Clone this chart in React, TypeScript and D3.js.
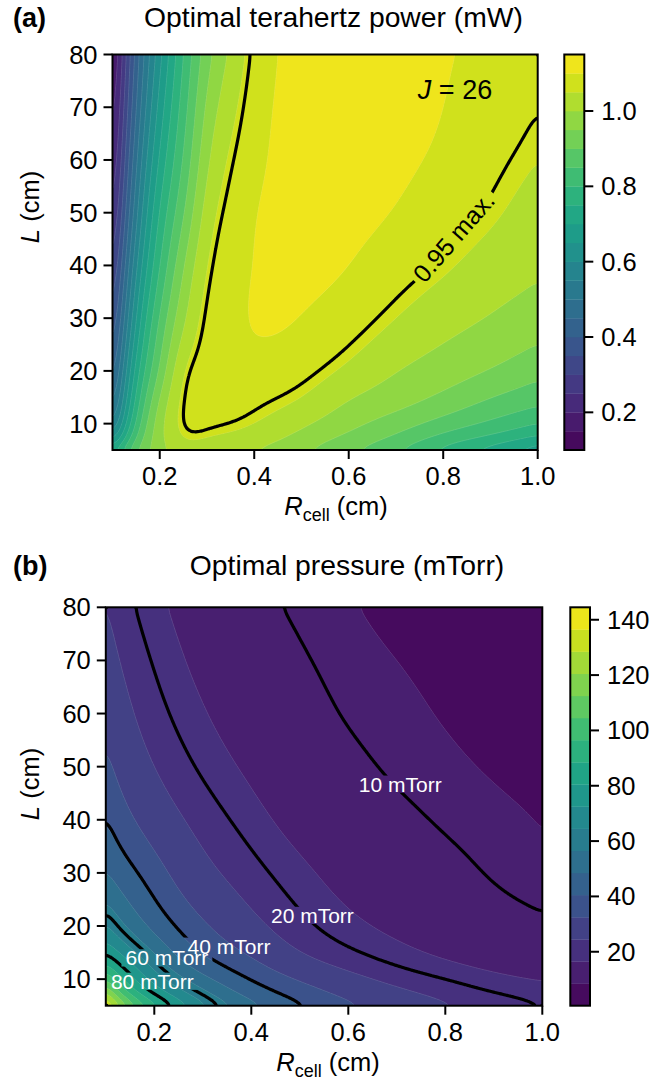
import React, { useMemo } from "react";
import * as d3 from "d3";

// ---------------- shared axes ----------------
const R_DOMAIN = [0.1, 1.0];
const L_DOMAIN = [5, 80];
const R_TICKS = [0.2, 0.4, 0.6, 0.8, 1.0];
const L_TICKS = [10, 20, 30, 40, 50, 60, 70, 80];
const L_NODES = [5, 10, 15, 20, 30, 40, 50, 60, 70, 80];

// ---------------- panel (a): optimal terahertz power (mW), J = 26 ----------------
const R_NODES_A = [0.1, 0.15, 0.2, 0.25, 0.3, 0.35, 0.4, 0.5, 0.6, 0.7, 0.8, 0.9, 1.0];
const POWER_L5 = [0.74, 0.9, 0.98, 1.025, 1.02, 1.01, 0.995, 0.955, 0.905, 0.85, 0.78, 0.72, 0.66];
const POWER_L10 = [0.53, 0.81, 0.98, 1.064, 1.07, 1.062, 1.05, 1.01, 0.965, 0.925, 0.88, 0.84, 0.8];
const POWER_L15 = [0.45, 0.76, 0.95, 1.062, 1.082, 1.082, 1.073, 1.05, 1.005, 0.973, 0.94, 0.902, 0.87];
const POWER_L20 = [0.4, 0.72, 0.91, 1.047, 1.08, 1.09, 1.088, 1.073, 1.04, 1.002, 0.975, 0.947, 0.915];
const POWER_L30 = [0.33, 0.65, 0.855, 0.99, 1.07, 1.092, 1.102, 1.099, 1.08, 1.05, 1.02, 0.997, 0.975];
const POWER_L40 = [0.27, 0.59, 0.8, 0.945, 1.05, 1.087, 1.101, 1.108, 1.1, 1.08, 1.057, 1.03, 1.008];
const POWER_L50 = [0.22, 0.535, 0.755, 0.895, 1.022, 1.075, 1.098, 1.112, 1.11, 1.098, 1.08, 1.057, 1.03];
const POWER_L60 = [0.18, 0.49, 0.71, 0.855, 0.99, 1.058, 1.09, 1.113, 1.118, 1.108, 1.093, 1.072, 1.05];
const POWER_L70 = [0.15, 0.45, 0.67, 0.825, 0.96, 1.035, 1.082, 1.109, 1.118, 1.115, 1.1, 1.084, 1.064];
const POWER_L80 = [0.12, 0.42, 0.635, 0.8, 0.93, 1.01, 1.072, 1.107, 1.115, 1.117, 1.103, 1.093, 1.079];
const POWER_LEVELS = [0.1, 0.15, 0.2, 0.25, 0.3, 0.35, 0.4, 0.45, 0.5, 0.55, 0.6, 0.65, 0.7, 0.75, 0.8, 0.85, 0.9, 0.95, 1.0, 1.05, 1.1, 1.15];
const POWER_CB_TICKS = [0.2, 0.4, 0.6, 0.8, 1.0];
const POWER_MAX_FRACTION = 0.95;

// ---------------- panel (b): optimal pressure (mTorr) ----------------
const R_NODES_B = [0.1, 0.2, 0.3, 0.4, 0.5, 0.6, 0.7, 0.8, 0.9, 1.0];
const PRESSURE_L5 = [144, 93, 67.5, 51.8, 41.6, 34.4, 29.3, 25.5, 22.6, 20.2];
const PRESSURE_L10 = [106, 69.3, 51.1, 39.6, 31.8, 26.6, 22.8, 20.0, 17.7, 16.2];
const PRESSURE_L15 = [80, 56.2, 39.8, 31.2, 24.7, 20.8, 17.9, 15.6, 13.9, 12.5];
const PRESSURE_L20 = [66, 46.2, 33.7, 26.4, 21.3, 17.8, 15.3, 13.4, 11.9, 10.7];
const PRESSURE_L30 = [49.5, 35.8, 26.5, 21.6, 17.6, 14.6, 12.5, 11.0, 9.75, 8.8];
const PRESSURE_L40 = [40.8, 28.8, 22.5, 18.2, 14.7, 12.5, 10.8, 9.7, 9.0, 8.4];
const PRESSURE_L50 = [34.6, 24.5, 19.3, 15.5, 12.6, 10.8, 9.6, 8.9, 8.3, 7.8];
const PRESSURE_L60 = [30.5, 21.7, 16.9, 13.5, 11.2, 9.8, 9.0, 8.35, 7.8, 7.4];
const PRESSURE_L70 = [27.4, 19.6, 15.1, 12.1, 10.3, 9.25, 8.5, 7.9, 7.4, 6.95];
const PRESSURE_L80 = [25, 17.8, 13.7, 11.0, 9.6, 8.7, 7.9, 7.4, 6.9, 6.5];
const PRESSURE_LEVELS = [0.5, 8.5, 16.5, 24.5, 32.5, 40.5, 48.5, 56.5, 64.5, 72.5, 80.5, 88.5, 96.5, 104.5, 112.5, 120.5, 128.5, 136.5, 144.5];
const PRESSURE_CB_TICKS = [20, 40, 60, 80, 100, 120, 140];
const PRESSURE_LINES = [10, 20, 40, 60, 80];
const PRESSURE_LABEL_R = [0.707, 0.526, 0.354, 0.226, 0.196];
const PRESSURE_LABEL_L = [46.7, 22.0, 16.2, 14.0, 9.6];

// ---------------- layout ----------------
const W = 670;
const H = 1087;
const FONT = "'Liberation Sans', Arial, Helvetica, sans-serif";
const TICK_FS = 25.5;
const TITLE_FS = 28.3;

const LAYOUT_A = {
  x0: 112.5, x1: 537.7, y0: 54.5, y1: 450, cb0: 564.3, cb1: 584.3,
  titleY: 27, titleX: 333.5, xlabX: 336, ylabY: 207,
};
const LAYOUT_B = {
  x0: 105.8, x1: 542.3, y0: 607.3, y1: 1005.7, cb0: 570.3, cb1: 590,
  titleY: 575, titleX: 347, xlabX: 328, ylabY: 784,
};

// natural cubic spline interpolator
function spline(xs: number[], ys: number[]) {
  const n = xs.length;
  const h: number[] = [];
  for (let i = 0; i < n - 1; i++) h.push(xs[i + 1] - xs[i]);
  const a = new Array(n).fill(0);
  const b = new Array(n).fill(1);
  const c = new Array(n).fill(0);
  const r = new Array(n).fill(0);
  for (let i = 1; i < n - 1; i++) {
    a[i] = h[i - 1];
    b[i] = 2 * (h[i - 1] + h[i]);
    c[i] = h[i];
    r[i] = 6 * ((ys[i + 1] - ys[i]) / h[i] - (ys[i] - ys[i - 1]) / h[i - 1]);
  }
  const cp = new Array(n).fill(0);
  const rp = new Array(n).fill(0);
  cp[0] = c[0] / b[0];
  rp[0] = r[0] / b[0];
  for (let i = 1; i < n; i++) {
    const den = b[i] - a[i] * cp[i - 1];
    cp[i] = c[i] / den;
    rp[i] = (r[i] - a[i] * rp[i - 1]) / den;
  }
  const M = new Array(n).fill(0);
  M[n - 1] = rp[n - 1];
  for (let i = n - 2; i >= 0; i--) M[i] = rp[i] - cp[i] * M[i + 1];
  return (x: number) => {
    let i = 0;
    if (x >= xs[n - 1]) i = n - 2;
    else if (x > xs[0]) {
      while (x > xs[i + 1]) i++;
    }
    const hi = h[i];
    const A = (xs[i + 1] - x) / hi;
    const B = (x - xs[i]) / hi;
    return A * ys[i] + B * ys[i + 1] + ((A * A * A - A) * M[i] + (B * B * B - B) * M[i + 1]) * (hi * hi) / 6;
  };
}

function blur(values: number[], nx: number, ny: number, r: number) {
  const tmp = new Array(nx * ny);
  const src = values.slice();
  for (let pass = 0; pass < 3; pass++) {
    for (let j = 0; j < ny; j++) {
      for (let i = 0; i < nx; i++) {
        let s = 0;
        for (let k = -r; k <= r; k++) {
          const ii = Math.min(nx - 1, Math.max(0, i + k));
          s += src[j * nx + ii];
        }
        tmp[j * nx + i] = s / (2 * r + 1);
      }
    }
    for (let j = 0; j < ny; j++) {
      for (let i = 0; i < nx; i++) {
        let s = 0;
        for (let k = -r; k <= r; k++) {
          const jj = Math.min(ny - 1, Math.max(0, j + k));
          s += tmp[jj * nx + i];
        }
        src[j * nx + i] = s / (2 * r + 1);
      }
    }
  }
  return src;
}

function buildField(rows: number[][], rNodes: number[], nx: number, ny: number, logR: boolean, logV: boolean) {
  const tR = (r: number) => (logR ? Math.log(r) : r);
  const tV = (v: number) => (logV ? Math.log(v) : v);
  const lx = L_NODES.map((l) => Math.log(l));
  const rx = rNodes.map(tR);
  const cols = rNodes.map((_, c) => spline(lx, rows.map((row) => tV(row[c]))));
  const values = new Array(nx * ny);
  for (let j = 0; j < ny; j++) {
    const L = L_DOMAIN[1] - ((j + 0.5) / ny) * (L_DOMAIN[1] - L_DOMAIN[0]);
    const cv = cols.map((f) => f(Math.log(L)));
    const rowF = spline(rx, cv);
    for (let i = 0; i < nx; i++) {
      const R = R_DOMAIN[0] + ((i + 0.5) / nx) * (R_DOMAIN[1] - R_DOMAIN[0]);
      values[j * nx + i] = rowF(tR(R));
    }
  }
  const sm = blur(values, nx, ny, 3);
  return logV ? sm.map((v) => Math.exp(v)) : sm;
}

function isoLines(geom: any, nx: number, ny: number) {
  const e = 1e-6;
  const onB = (a: number[], b: number[]) =>
    (a[0] <= e && b[0] <= e) ||
    (a[0] >= nx - e && b[0] >= nx - e) ||
    (a[1] <= e && b[1] <= e) ||
    (a[1] >= ny - e && b[1] >= ny - e);
  const lines: number[][][] = [];
  for (const poly of geom.coordinates) {
    for (const ring of poly) {
      const segs: number[][][] = [];
      let cur: number[][] = [];
      for (let k = 0; k < ring.length - 1; k++) {
        const a = ring[k];
        const b = ring[k + 1];
        if (onB(a, b)) {
          if (cur.length > 1) segs.push(cur);
          cur = [];
        } else {
          if (cur.length === 0) cur.push(a);
          cur.push(b);
        }
      }
      if (cur.length > 1) segs.push(cur);
      if (segs.length > 1) {
        const f = segs[0];
        const l = segs[segs.length - 1];
        const p = l[l.length - 1];
        if (Math.abs(p[0] - f[0][0]) < e && Math.abs(p[1] - f[0][1]) < e) {
          segs[0] = l.concat(f.slice(1));
          segs.pop();
        }
      }
      lines.push(...segs);
    }
  }
  return lines;
}

let _ctx: CanvasRenderingContext2D | null = null;
function textWidth(t: string, size: number) {
  if (!_ctx) _ctx = document.createElement("canvas").getContext("2d");
  if (!_ctx) return t.length * size * 0.55;
  _ctx.font = `${size}px ${FONT}`;
  return _ctx.measureText(t).width;
}

type Label = { text: string; x: number; y: number; angle: number; size: number; color: string };

function Panel(props: {
  id: string;
  lay: typeof LAYOUT_A;
  rows: number[][];
  rNodes: number[];
  logR: boolean;
  logV: boolean;
  levels: number[];
  cbTicks: number[];
  cbFormat: (v: number) => string;
  lineLevels: (vals: number[]) => number[];
  labels: (x: any, y: any) => Label[];
  title: string;
  letter: string;
  extra?: React.ReactNode;
}) {
  const { lay, levels } = props;
  const pw = lay.x1 - lay.x0;
  const ph = lay.y1 - lay.y0;
  const nx = Math.round(pw / 1.5);
  const ny = Math.round(ph / 1.5);

  const x = d3.scaleLinear().domain(R_DOMAIN).range([lay.x0, lay.x1]);
  const y = d3.scaleLinear().domain(L_DOMAIN).range([lay.y1, lay.y0]);
  const cbY = d3.scaleLinear().domain([levels[0], levels[levels.length - 1]]).range([lay.y1, lay.y0]);
  const colorOf = (i: number) =>
    d3.interpolateViridis(((levels[i] + levels[i + 1]) / 2 - levels[0]) / (levels[levels.length - 1] - levels[0]));

  const computed = useMemo(() => {
    const values = buildField(props.rows, props.rNodes, nx, ny, props.logR, props.logV);
    const proj = d3.geoTransform({
      point: function (gx: number, gy: number) {
        (this as any).stream.point(lay.x0 + (gx / nx) * pw, lay.y0 + (gy / ny) * ph);
      },
    });
    const path = d3.geoPath(proj);
    const bands = d3.contours().size([nx, ny]).smooth(true).thresholds(levels.slice(0, -1))(values as any);
    const fills = bands.map((b, i) => ({ d: path(b as any) || "", color: colorOf(i) }));
    const lineLv = props.lineLevels(values as number[]);
    const line = d3
      .line<number[]>()
      .x((p) => lay.x0 + (p[0] / nx) * pw)
      .y((p) => lay.y0 + (p[1] / ny) * ph)
      .curve(d3.curveBasis);
    const seams: string[] = [];
    for (let i = 1; i < levels.length - 1; i++) {
      const g = d3.contours().size([nx, ny]).thresholds([levels[i]])(values as any)[0];
      for (const l of isoLines(g, nx, ny)) seams.push(line(l) || "");
    }
    const blacks: string[] = [];
    for (const lv of lineLv) {
      const g = d3.contours().size([nx, ny]).thresholds([lv])(values as any)[0];
      for (const l of isoLines(g, nx, ny)) blacks.push(line(l) || "");
    }
    return { fills, seams, blacks };
  }, []);

  const labels = props.labels(x, y);
  const clipId = `clip-${props.id}`;
  const maskId = `mask-${props.id}`;

  return (
    <g>
      <defs>
        <clipPath id={clipId}>
          <rect x={lay.x0} y={lay.y0} width={pw} height={ph} />
        </clipPath>
        <mask id={maskId} maskUnits="userSpaceOnUse" x={0} y={0} width={W} height={H}>
          <rect x={0} y={0} width={W} height={H} fill="white" />
          {labels.map((lb, i) => {
            const w = textWidth(lb.text, lb.size) + 8;
            const h = lb.size * 0.82;
            return (
              <rect
                key={i}
                x={-w / 2}
                y={-h / 2}
                width={w}
                height={h}
                fill="black"
                transform={`translate(${lb.x},${lb.y}) rotate(${lb.angle})`}
              />
            );
          })}
        </mask>
      </defs>
      <g clipPath={`url(#${clipId})`}>
        {computed.fills.map((f, i) => (
          <path key={i} d={f.d} fill={f.color} stroke={f.color} strokeWidth={0.3} />
        ))}
        {computed.seams.map((d, i) => (
          <path key={i} d={d} fill="none" stroke="white" strokeOpacity={0.22} strokeWidth={0.6} />
        ))}
        <g mask={`url(#${maskId})`}>
          {computed.blacks.map((d, i) => (
            <path key={i} d={d} fill="none" stroke="black" strokeWidth={3.2} strokeLinejoin="round" />
          ))}
        </g>
        {labels.map((lb, i) => (
          <text
            key={i}
            x={0}
            y={0}
            transform={`translate(${lb.x},${lb.y}) rotate(${lb.angle})`}
            textAnchor="middle"
            dominantBaseline="central"
            fontSize={lb.size}
            fill={lb.color}
            fontFamily={FONT}
          >
            {lb.text}
          </text>
        ))}
        {props.extra}
      </g>
      <rect x={lay.x0} y={lay.y0} width={pw} height={ph} fill="none" stroke="black" strokeWidth={2} />
      {R_TICKS.map((t) => (
        <g key={t}>
          <line x1={x(t)} x2={x(t)} y1={lay.y1} y2={lay.y1 + 9} stroke="black" strokeWidth={2} />
          <text x={x(t)} y={lay.y1 + 35} textAnchor="middle" fontSize={TICK_FS} fontFamily={FONT}>
            {t.toFixed(1)}
          </text>
        </g>
      ))}
      {L_TICKS.map((t) => (
        <g key={t}>
          <line x1={lay.x0 - 9} x2={lay.x0} y1={y(t)} y2={y(t)} stroke="black" strokeWidth={2} />
          <text
            x={lay.x0 - 15}
            y={y(t)}
            textAnchor="end"
            dominantBaseline="central"
            fontSize={TICK_FS}
            fontFamily={FONT}
          >
            {t}
          </text>
        </g>
      ))}
      <text x={lay.xlabX} y={lay.y1 + 65} textAnchor="middle" fontSize={TICK_FS} fontFamily={FONT}>
        <tspan fontStyle="italic">R</tspan>
        <tspan fontSize={18} dy={6}>
          cell
        </tspan>
        <tspan dy={-6}> (cm)</tspan>
      </text>
      <text
        transform={`translate(${39},${lay.ylabY}) rotate(-90)`}
        textAnchor="middle"
        fontSize={TICK_FS}
        fontFamily={FONT}
      >
        <tspan fontStyle="italic">L</tspan>
        <tspan> (cm)</tspan>
      </text>
      <text x={lay.titleX} y={lay.titleY} textAnchor="middle" fontSize={TITLE_FS} fontFamily={FONT}>
        {props.title}
      </text>
      <text x={13} y={lay.titleY} fontSize={27} fontWeight="bold" fontFamily={FONT}>
        {props.letter}
      </text>
      {levels.slice(0, -1).map((lv, i) => (
        <rect
          key={i}
          x={lay.cb0}
          y={cbY(levels[i + 1])}
          width={lay.cb1 - lay.cb0}
          height={cbY(levels[i]) - cbY(levels[i + 1]) + 0.3}
          fill={colorOf(i)}
        />
      ))}
      <rect x={lay.cb0} y={lay.y0} width={lay.cb1 - lay.cb0} height={ph} fill="none" stroke="black" strokeWidth={2} />
      {props.cbTicks.map((t) => (
        <g key={t}>
          <line x1={lay.cb1} x2={lay.cb1 + 9} y1={cbY(t)} y2={cbY(t)} stroke="black" strokeWidth={2} />
          <text x={lay.cb1 + 17} y={cbY(t)} dominantBaseline="central" fontSize={TICK_FS} fontFamily={FONT}>
            {props.cbFormat(t)}
          </text>
        </g>
      ))}
    </g>
  );
}

export default function App() {
  const powerRows = [POWER_L5, POWER_L10, POWER_L15, POWER_L20, POWER_L30, POWER_L40, POWER_L50, POWER_L60, POWER_L70, POWER_L80];
  const pressureRows = [
    PRESSURE_L5, PRESSURE_L10, PRESSURE_L15, PRESSURE_L20, PRESSURE_L30,
    PRESSURE_L40, PRESSURE_L50, PRESSURE_L60, PRESSURE_L70, PRESSURE_L80,
  ];
  const xA = d3.scaleLinear().domain(R_DOMAIN).range([LAYOUT_A.x0, LAYOUT_A.x1]);
  const yA = d3.scaleLinear().domain(L_DOMAIN).range([LAYOUT_A.y1, LAYOUT_A.y0]);
  return (
    <svg
      width={W}
      height={H}
      viewBox={`0 0 ${W} ${H}`}
      style={{ position: "absolute", left: 0, top: 0, background: "white" }}
    >
      <rect x={0} y={0} width={W} height={H} fill="white" />
      <Panel
        id="a"
        lay={LAYOUT_A}
        rows={powerRows}
        rNodes={R_NODES_A}
        logR={false}
        logV={false}
        levels={POWER_LEVELS}
        cbTicks={POWER_CB_TICKS}
        cbFormat={(v) => v.toFixed(1)}
        lineLevels={(vals) => [POWER_MAX_FRACTION * (d3.max(vals) as number)]}
        labels={(x, y) => [{ text: "0.95 max.", x: x(0.822), y: y(45.4), angle: -49, size: 25, color: "black" }]}
        title="Optimal terahertz power (mW)"
        letter="(a)"
        extra={
          <text x={xA(0.825)} y={yA(71.5)} textAnchor="middle" fontSize={27} fontFamily={FONT}>
            <tspan fontStyle="italic">J</tspan> = 26
          </text>
        }
      />
      <Panel
        id="b"
        lay={LAYOUT_B}
        rows={pressureRows}
        rNodes={R_NODES_B}
        logR={true}
        logV={true}
        levels={PRESSURE_LEVELS}
        cbTicks={PRESSURE_CB_TICKS}
        cbFormat={(v) => String(v)}
        lineLevels={() => PRESSURE_LINES}
        labels={(x, y) =>
          PRESSURE_LINES.map((p, i) => ({
            text: `${p} mTorr`,
            x: x(PRESSURE_LABEL_R[i]),
            y: y(PRESSURE_LABEL_L[i]),
            angle: 0,
            size: 21,
            color: "white",
          }))
        }
        title="Optimal pressure (mTorr)"
        letter="(b)"
      />
    </svg>
  );
}
